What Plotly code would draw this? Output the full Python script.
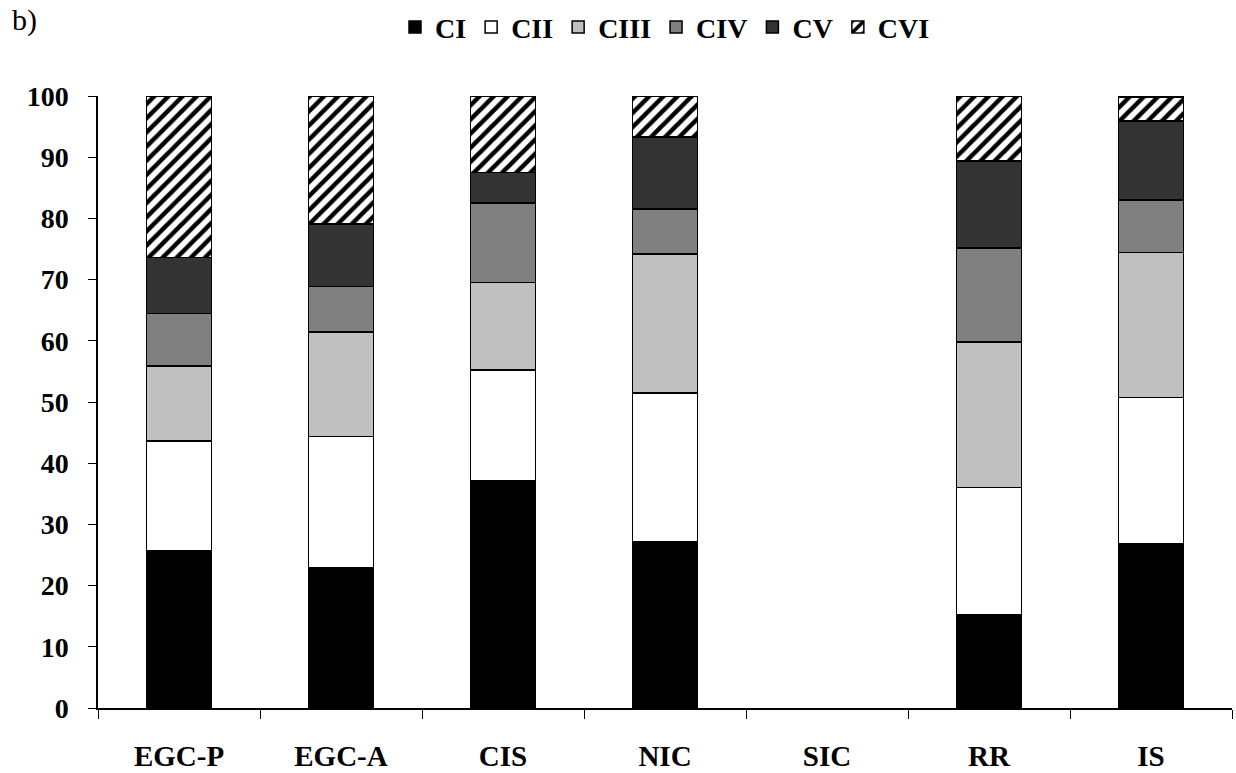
import plotly.graph_objects as go

categories = ["EGC-P", "EGC-A", "CIS", "NIC", "SIC", "RR", "IS"]
stage_names = ["CI", "CII", "CIII", "CIV", "CV", "CVI"]

# Percent contribution of each copepodite stage
CI   = [25.7, 22.9, 37.2, 27.2, None, 15.2, 26.8]
CII  = [17.9, 21.5, 18.0, 24.3, None, 20.8, 23.9]
CIII = [12.3, 17.0, 14.3, 22.7, None, 23.8, 23.7]
CIV  = [8.6, 7.5, 13.0, 7.3, None, 15.4, 8.6]
CV   = [9.1, 10.2, 5.0, 11.8, None, 14.2, 12.9]
CVI  = [26.4, 20.9, 12.5, 6.7, None, 10.6, 3.9]

series = [CI, CII, CIII, CIV, CV, CVI]
colors = ["#000000", "#ffffff", "#c0c0c0", "#808080", "#333333", "#ffffff"]

FONT = "Liberation Serif"

fig = go.Figure()
for name, vals, col in zip(stage_names, series, colors):
    marker = dict(color=col, line=dict(color="black", width=1.5))
    if name == "CVI":
        marker["pattern"] = dict(shape="/", fgcolor="black", bgcolor="white",
                                 size=10, solidity=0.45, fillmode="replace")
    fig.add_trace(go.Bar(x=categories, y=vals, name=name, marker=marker, width=0.4))

fig.update_layout(
    barmode="stack",
    width=1236, height=773,
    paper_bgcolor="white", plot_bgcolor="white",
    margin=dict(l=98, r=4, t=96, b=65, autoexpand=False),
    font=dict(family=FONT, color="black"),
    showlegend=True,
    legend=dict(orientation="h", x=0.5, xanchor="center", y=0.997, yanchor="top",
                yref="container", font=dict(family=FONT, size=28, weight="bold"),
                traceorder="normal", itemwidth=30, bgcolor="rgba(0,0,0,0)"),
)

fig.update_xaxes(
    showline=True, linecolor="black", linewidth=1.5,
    ticks="outside", ticklen=9, tickcolor="black", tickwidth=1,
    tickson="boundaries", automargin=False,
    tickfont=dict(family=FONT, size=29, weight="bold"),
    ticklabelstandoff=21,
    showgrid=False, zeroline=False,
)
fig.update_yaxes(
    range=[0, 100], tickvals=list(range(0, 101, 10)),
    showline=True, linecolor="black", linewidth=1.5,
    ticks="outside", ticklen=8, tickcolor="black", tickwidth=1,
    automargin=False,
    tickfont=dict(family=FONT, size=28, weight="bold"),
    ticklabelstandoff=14,
    showgrid=False, zeroline=False,
)

fig.add_annotation(text="b)", xref="paper", yref="paper", x=-0.078, y=1.125,
                   xanchor="left", yanchor="middle", showarrow=False,
                   font=dict(family=FONT, size=30, color="black"))

fig.write_html("out.html", config={"displayModeBar": False},
               post_script="document.body.style.margin='0';document.body.style.overflow='hidden';")
